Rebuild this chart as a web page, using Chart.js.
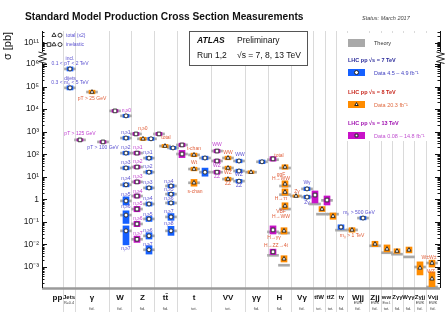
<!DOCTYPE html>
<html>
<head>
<meta charset="utf-8">
<script src="https://cdn.jsdelivr.net/npm/chart.js@4.4.0/dist/chart.umd.min.js"></script>
<style>
  body { margin: 0; background: #fff; }
  #caixa { width: 447px; height: 327px; position: relative; }
</style>
</head>
<body>
<div id="caixa"><canvas id="grafico"></canvas></div>
<script>
// categorias do eixo x e seus limites (unidades do eixo, 0 = borda esquerda)
const categorias = ["pp", "Jets", "γ", "W", "Z", "tt̄", "t", "VV", "γγ", "H", "Vγ", "tt̄W", "tt̄Z", "tγ", "Wjj", "Zjj", "ww", "Zγγ", "Wγγ", "Zγjj", "Vvjj"];
const limitesCategorias = [10, 21, 33, 67, 89, 112, 135, 169, 203, 226, 249, 271, 283, 294, 305, 327, 339, 350, 361, 372, 384, 398];
const notasCategorias = ["", "R=0.4", "", "", "", "", "", "", "", "", "", "", "", "", "EWK", "EWK", "Excl.", "", "", "EWK", "EWK"];
const tiposCategorias = ["", "", "fid.", "fid.", "fid.", "fid.", "tot.", "tot.", "fid.", "fid.", "fid.", "tot.", "tot.", "fid.", "fid.", "fid.", "tot.", "fid.", "fid.", "fid.", "fid."];

const ticksSigma = [1e-3, 1e-2, 1e-1, 1, 10, 100, 1e3, 1e4, 1e5, 1e6, 1e11];
const ticksTexto = ["10⁻³", "10⁻²", "10⁻¹", "1", "10¹", "10²", "10³", "10⁴", "10⁵", "10⁶", "10¹¹"];

// [x, sigma (pb), erro abaixo (dex), erro acima (dex), teoria (pb)]
const dados7TeV = [
  [18, 2.2e11, 0, 0, null],
  [18, 8.5e10, 0, 0, null],
  [28, 6.0e5, 0.09, 0.09, 6.0e5],
  [28, 8.7e4, 0.09, 0.09, 8.7e4],
  [84, 5.0e3, 0.07, 0.07, 5.0e3],
  [84, 520, 0.08, 0.08, 520],
  [84, 112, 0.08, 0.08, 112],
  [84, 24.5, 0.08, 0.08, 24.5],
  [84, 4.4, 0.09, 0.09, 4.4],
  [84, 0.85, 0.18, 0.18, 0.85],
  [84, 0.2, 0.37, 0.19, 0.2],
  [84, 0.04, 0.62, 0.22, 0.04],
  [109, 480, 0.07, 0.07, 480],
  [107, 67, 0.08, 0.08, 67],
  [107, 16, 0.08, 0.08, 16],
  [107, 3.2, 0.08, 0.08, 3.2],
  [107, 0.62, 0.09, 0.09, 0.62],
  [107, 0.135, 0.11, 0.11, 0.135],
  [107, 0.024, 0.14, 0.14, 0.024],
  [107, 0.0058, 0.19, 0.18, 0.0058],
  [131, 190, 0.07, 0.07, 190],
  [129, 3.9, 0.08, 0.08, 3.9],
  [129, 1.7, 0.08, 0.08, 1.7],
  [129, 0.69, 0.08, 0.08, 0.69],
  [129, 0.166, 0.15, 0.15, 0.166],
  [129, 0.04, 0.2, 0.2, 0.04],
  [163, 68, 0.08, 0.08, 68],
  [163, 16, 0.18, 0.18, 16],
  [197, 50, 0.08, 0.08, 50],
  [197, 18, 0.08, 0.08, 18],
  [197, 6.4, 0.08, 0.08, 6.4],
  [220, 46, 0.08, 0.08, 46],
  [265, 2.9, 0.08, 0.08, 2.9],
  [265, 1.26, 0.08, 0.08, 1.26],
  [299, 0.059, 0.1, 0.1, 0.043],
  [321, 0.148, 0.08, 0.08, 0.148],
];

const dados8TeV = [
  [12, 2.2e11, 0, 0, null],
  [12, 8.5e10, 0, 0, null],
  [50, 5.7e4, 0.08, 0.08, 5.7e4],
  [101, 480, 0.07, 0.07, 480],
  [123, 230, 0.07, 0.07, 230],
  [152, 93, 0.08, 0.08, 93],
  [152, 22, 0.08, 0.08, 22],
  [152, 5.4, 0.15, 0.15, 5.4],
  [186, 68, 0.08, 0.08, 68],
  [186, 24.5, 0.08, 0.08, 24.5],
  [186, 7.9, 0.08, 0.08, 7.9],
  [209, 16, 0.06, 0.06, 16],
  [243, 27, 0.1, 0.1, 24.5],
  [243, 4.8, 0.14, 0.14, 3.9],
  [243, 2.1, 0.14, 0.14, 1.6],
  [243, 0.51, 0.14, 0.14, 0.37],
  [242, 0.04, 0.14, 0.14, 0.032],
  [242, 0.0023, 0.14, 0.14, 0.0012],
  [254, 1.4, 0.05, 0.05, 1.4],
  [280, 0.37, 0.11, 0.11, 0.22],
  [291, 0.18, 0.14, 0.14, 0.22],
  [310, 0.044, 0.1, 0.1, 0.044],
  [333, 0.0105, 0.12, 0.12, 0.0087],
  [345, 0.0063, 0.13, 0.18, 0.0043],
  [355, 0.0051, 0.1, 0.1, 0.0037],
  [367, 0.0057, 0.13, 0.13, 0.0028],
  [378, 0.00091, 0.31, 0.27, 0.001],
  [390, 0.0015, 0.18, 0.13, 0.0015],
  [390, 0.0003, 0.35, 0.31, 0.00013],
];

const dados13TeV = [
  [7, 8.5e10, 0, 0, null],
  [38, 430, 0.05, 0.05, 430],
  [61, 350, 0.06, 0.06, 350],
  [73, 8.3e3, 0.06, 0.06, 8.3e3],
  [94, 790, 0.07, 0.07, 790],
  [95, 112, 0.08, 0.08, 112],
  [95, 27, 0.08, 0.08, 27],
  [95, 5.9, 0.08, 0.08, 5.9],
  [95, 1.4, 0.09, 0.09, 1.4],
  [95, 0.37, 0.12, 0.12, 0.37],
  [95, 0.081, 0.12, 0.12, 0.081],
  [95, 0.017, 0.14, 0.14, 0.017],
  [117, 790, 0.07, 0.07, 790],
  [140, 257, 0.08, 0.08, 257],
  [140, 102, 0.16, 0.16, 102],
  [175, 138, 0.08, 0.08, 138],
  [175, 50, 0.08, 0.08, 50],
  [175, 16, 0.08, 0.08, 16],
  [231, 62, 0.1, 0.1, 57],
  [231, 0.044, 0.18, 0.18, 0.036],
  [231, 0.0047, 0.12, 0.12, 0.0033],
  [273, 1.55, 0.35, 0.18, 0.62],
  [285, 0.93, 0.22, 0.18, 0.9],
];

// rotulos: [x, sigma, texto]
const rotulosPp = [
  [24, 2.2e11, "total (x2)"],
  [24, 8.5e10, "inelastic"],
];

const rotulos7TeV = [
  [28, 1.7e6, "incl."],
  [28, 1.0e6, "0.1 < pT < 2 TeV"],
  [28, 2.2e5, "dijets"],
  [28, 1.45e5, "0.3 < mⱼⱼ < 5 TeV"],
  [61, 190, "pT > 100 GeV"],
  [84, 870, "nⱼ≥1"],
  [84, 190, "nⱼ≥2"],
  [84, 41, "nⱼ≥3"],
  [84, 7.9, "nⱼ≥4"],
  [84, 1.55, "nⱼ≥5"],
  [84, 0.46, "nⱼ≥6"],
  [84, 0.0063, "nⱼ≥7"],
  [106, 112, "nⱼ≥1"],
  [106, 27, "nⱼ≥2"],
  [106, 5.4, "nⱼ≥3"],
  [106, 1.05, "nⱼ≥4"],
  [106, 0.22, "nⱼ≥5"],
  [106, 0.04, "nⱼ≥6"],
  [106, 0.0095, "nⱼ≥7"],
  [127, 5.9, "nⱼ≥4"],
  [127, 2.6, "nⱼ≥5"],
  [127, 1.05, "nⱼ≥6"],
  [127, 0.28, "nⱼ≥7"],
  [127, 0.081, "nⱼ≥8"],
  [198, 93, "WW"],
  [197, 12, "WZ"],
  [197, 3.9, "ZZ"],
  [265, 5.4, "Wγ"],
  [265, 0.69, "Zγ"],
  [317, 0.25, "mⱼⱼ > 500 GeV"],
];

const rotulos8TeV = [
  [50, 2.8e4, "pT > 25 GeV"],
  [101, 1300, "nⱼ≥0"],
  [124, 520, "total"],
  [152, 170, "t-chan"],
  [152, 41, "Wt"],
  [153, 2.1, "s-chan"],
  [186, 112, "WW"],
  [186, 16, "WZ"],
  [186, 4.8, "ZZ"],
  [237, 83, "total"],
  [239, 13, "ggF"],
  [239, 7.9, "H→WW"],
  [239, 1.05, "H→ττ"],
  [239, 0.28, "VBF"],
  [239, 0.166, "H→WW"],
  [232, 0.0195, "H→γγ"],
  [234, 0.0085, "H→ZZ→4ℓ"],
  [255, 2.3, "Zγ"],
  [310, 0.024, "mⱼⱼ > 1 TeV"],
  [387, 0.0025, "W±W±"],
  [389, 0.0006, "WZ"],
];

const rotulos13TeV = [
  [38, 790, "pT > 125 GeV"],
  [84.5, 8.3e3, "nⱼ≥0"],
  [96, 190, "nⱼ≥1"],
  [96, 46, "nⱼ≥2"],
  [96, 9.8, "nⱼ≥3"],
  [96, 2.3, "nⱼ≥4"],
  [96, 0.62, "nⱼ≥5"],
  [96, 0.135, "nⱼ≥6"],
  [96, 0.029, "nⱼ≥7"],
  [175, 257, "WW"],
  [175, 30, "WZ"],
  [175, 9.8, "ZZ"],
];

const corAzul = "#1560ff";
const corLaranja = "#ff8c00";
const corMagenta = "#c812c8";
const corTeoria = "#a9a9a9";

// eixo logaritmico com quebra entre 10^6 e 10^10
function paraEixo(sigma) {
  const l = Math.log10(sigma);
  return l >= 10 ? l - 4.07 : l;
}

function caixas(serie) {
  return serie
    .filter((p) => p[2] + p[3] > 0)
    .map((p) => ({ x: p[0], y: [paraEixo(p[1]) - p[2], paraEixo(p[1]) + p[3]] }));
}

function marcadores(serie) {
  return serie.map((p) => ({ x: p[0], y: paraEixo(p[1]) }));
}

function teoria(serie) {
  return serie
    .filter((p) => p[4])
    .map((p) => ({ x: p[0], y: [paraEixo(p[4]) - 0.045, paraEixo(p[4]) + 0.045] }));
}

const estiloMarcador = {
  type: "scatter",
  radius: 2,
  backgroundColor: "#fff",
  borderColor: "#222",
  borderWidth: 0.9,
  order: 1,
};

function texto(ctx, t, x, y, fonte, cor, alinhamento) {
  ctx.font = fonte;
  ctx.fillStyle = cor;
  ctx.textAlign = alinhamento || "center";
  ctx.textBaseline = "middle";
  ctx.fillText(t, x, y);
}

const desenhoExtra = {
  id: "desenhoExtra",

  beforeDatasetsDraw(chart) {
    const ctx = chart.ctx;
    const escalaX = chart.scales.x;
    const area = chart.chartArea;

    ctx.save();
    ctx.strokeStyle = "#dadada";
    ctx.lineWidth = 1;
    for (let i = 1; i < limitesCategorias.length - 1; i++) {
      const px = Math.round(escalaX.getPixelForValue(limitesCategorias[i])) + 0.5;
      ctx.beginPath();
      ctx.moveTo(px, area.top);
      ctx.lineTo(px, area.bottom + 24);
      ctx.stroke();
    }
    ctx.restore();
  },

  afterDatasetsDraw(chart) {
    const ctx = chart.ctx;
    const escalaX = chart.scales.x;
    const escalaY = chart.scales.y;
    const area = chart.chartArea;
    const fonte = '"Liberation Sans", Arial, sans-serif';

    ctx.save();

    // eixo inferior
    ctx.strokeStyle = "#9a9a9a";
    ctx.lineWidth = 2.5;
    ctx.beginPath();
    ctx.moveTo(area.left, area.bottom + 0.5);
    ctx.lineTo(area.right, area.bottom + 0.5);
    ctx.stroke();

    // eixos verticais
    ctx.strokeStyle = "#111";
    ctx.lineWidth = 1;
    [area.left + 0.5, area.right + 0.5].forEach((px) => {
      ctx.beginPath();
      ctx.moveTo(px, area.top);
      ctx.lineTo(px, area.bottom);
      ctx.stroke();
    });

    // marcas maiores e menores
    for (let n = -4; n <= 11; n++) {
      if (n >= 7 && n <= 9) continue;
      for (let k = 1; k <= 9; k++) {
        const v = paraEixo(k * Math.pow(10, n));
        if (v < escalaY.min || v > escalaY.max) continue;
        if (v > 6.02 && v < 6.55) continue;
        const py = Math.round(escalaY.getPixelForValue(v)) + 0.5;
        const comp = k === 1 ? 5 : 2.5;
        ctx.beginPath();
        ctx.moveTo(area.left, py);
        ctx.lineTo(area.left + comp, py);
        ctx.moveTo(area.right, py);
        ctx.lineTo(area.right - comp, py);
        ctx.stroke();
      }
    }

    // quebra do eixo
    [area.left + 0.5, area.right + 0.5].forEach((px) => {
      ctx.fillStyle = "#fff";
      ctx.fillRect(px - 2, 52, 4, 11);
      ctx.strokeStyle = "#111";
      ctx.lineWidth = 0.9;
      ctx.beginPath();
      ctx.moveTo(px - 4, 52);
      ctx.lineTo(px + 4, 54);
      ctx.lineTo(px - 4, 56.5);
      ctx.lineTo(px + 4, 59);
      ctx.lineTo(px - 4, 61.5);
      ctx.lineTo(px + 4, 63.5);
      ctx.stroke();
    });

    // rotulos dos pontos
    const fonteRotulo = "5px " + fonte;
    rotulosPp.forEach((r) => {
      texto(ctx, r[2], escalaX.getPixelForValue(r[0]), escalaY.getPixelForValue(paraEixo(r[1])), fonteRotulo, "#5a50d0", "left");
    });
    [[rotulos7TeV, "#5a50d0"], [rotulos8TeV, "#e0603c"], [rotulos13TeV, "#c040d0"]].forEach(([lista, cor]) => {
      lista.forEach((r) => {
        texto(ctx, r[2], escalaX.getPixelForValue(r[0]), escalaY.getPixelForValue(paraEixo(r[1])), fonteRotulo, cor);
      });
    });

    // rotulos das categorias
    for (let i = 0; i < categorias.length; i++) {
      const meio = escalaX.getPixelForValue((limitesCategorias[i] + limitesCategorias[i + 1]) / 2);
      const nome = categorias[i];
      const pequeno = ["tt̄W", "tt̄Z", "tγ", "ww", "Zγγ", "Wγγ", "Zγjj", "Vvjj", "Jets"].includes(nome);
      texto(ctx, nome, meio, 297.5, "bold " + (pequeno ? "6px " : "8px ") + fonte, "#111");
      if (notasCategorias[i]) {
        texto(ctx, notasCategorias[i], meio, 303, "3.8px " + fonte, "#444");
      }
      if (tiposCategorias[i]) {
        texto(ctx, tiposCategorias[i], meio, 308.5, "4px " + fonte, "#444");
      }
    }

    // caixa ATLAS
    ctx.fillStyle = "#fff";
    ctx.fillRect(189.5, 31.5, 118, 34);
    ctx.strokeStyle = "#555";
    ctx.lineWidth = 1;
    ctx.strokeRect(189.5, 31.5, 118, 34);
    texto(ctx, "ATLAS", 197, 40.5, "italic bold 8.5px " + fonte, "#111", "left");
    texto(ctx, "Preliminary", 237, 40.5, "8.5px " + fonte, "#111", "left");
    texto(ctx, "Run 1,2", 197, 55.5, "8.5px " + fonte, "#111", "left");
    texto(ctx, "√s = 7, 8, 13 TeV", 237, 55.5, "8.5px " + fonte, "#111", "left");

    // legenda
    ctx.fillStyle = "#fff";
    ctx.fillRect(343, 33, 91, 108);
    ctx.fillStyle = corTeoria;
    ctx.fillRect(348, 39, 17, 8);
    texto(ctx, "Theory", 374, 43.5, "5.5px " + fonte, "#333", "left");

    const itens = [
      ["LHC pp √s = 7 TeV", "#2a2a9a", corAzul, "circle", "Data 4.5 – 4.9 fb⁻¹", "#4040c0", 60],
      ["LHC pp √s = 8 TeV", "#c8281e", corLaranja, "triangle", "Data 20.3 fb⁻¹", "#e06a40", 92],
      ["LHC pp √s = 13 TeV", "#a010b0", corMagenta, "rect", "Data 0.08 – 14.8 fb⁻¹", "#c050d0", 123],
    ];
    itens.forEach(([titulo, corTitulo, corCaixa, estilo, dadosTexto, corDados, y]) => {
      texto(ctx, titulo, 348, y, "bold 5.5px " + fonte, corTitulo, "left");
      ctx.fillStyle = corCaixa;
      ctx.fillRect(348, y + 9, 17, 7);
      ctx.fillStyle = "#fff";
      ctx.strokeStyle = "#222";
      Chart.helpers.drawPoint(ctx, { pointStyle: estilo, radius: 2, borderWidth: 0.9, rotation: 0 }, 356.5, y + 12.5);
      texto(ctx, dadosTexto, 374, y + 13, "5.5px " + fonte, corDados, "left");
    });

    // titulos
    texto(ctx, "Standard Model Production Cross Section Measurements", 25, 17, "bold 10.2px " + fonte, "#111", "left");
    texto(ctx, "Status: March 2017", 362, 18, "italic 5.5px " + fonte, "#444", "left");

    ctx.translate(8, 46);
    ctx.rotate(-Math.PI / 2);
    texto(ctx, "σ [pb]", 0, 0, "11px " + fonte, "#111");

    ctx.restore();
  },
};

new Chart(document.getElementById("grafico"), {
  type: "scatter",

  data: {
    datasets: [
      {
        type: "bar",
        data: teoria(dados7TeV).concat(teoria(dados8TeV), teoria(dados13TeV)),
        backgroundColor: corTeoria,
        barThickness: 11,
        grouped: false,
        order: 5,
      },
      {
        type: "bar",
        data: caixas(dados7TeV),
        backgroundColor: corAzul,
        barThickness: 6,
        grouped: false,
        order: 4,
      },
      {
        type: "bar",
        data: caixas(dados8TeV),
        backgroundColor: corLaranja,
        barThickness: 6,
        grouped: false,
        order: 4,
      },
      {
        type: "bar",
        data: caixas(dados13TeV),
        backgroundColor: corMagenta,
        barThickness: 6,
        grouped: false,
        order: 4,
      },
      { ...estiloMarcador, data: marcadores(dados7TeV), pointStyle: "circle" },
      { ...estiloMarcador, data: marcadores(dados8TeV), pointStyle: "triangle", radius: 2.4 },
      { ...estiloMarcador, data: marcadores(dados13TeV), pointStyle: "rect", radius: 2.6 },
    ],
  },

  options: {
    responsive: true,
    maintainAspectRatio: false,
    animation: false,
    events: [],

    layout: {
      padding: { left: 0, right: 7, top: 31, bottom: 39 },
    },

    plugins: {
      legend: { display: false },
      tooltip: { enabled: false },
    },

    scales: {
      x: {
        type: "linear",
        display: false,
        min: 0,
        max: 398,
        offset: false,
      },

      y: {
        type: "linear",
        min: -3.93,
        max: 7.46,
        grid: { display: false, drawTicks: false },
        border: { display: false },
        afterBuildTicks: (escala) => {
          escala.ticks = ticksSigma.map((s) => ({ value: paraEixo(s) }));
        },
        afterFit: (escala) => {
          escala.width = 42;
        },
        ticks: {
          padding: 3,
          autoSkip: false,
          color: "#222",
          font: { family: '"Liberation Sans", Arial, sans-serif', size: 8.5 },
          callback: (valor, indice) => ticksTexto[indice],
        },
      },
    },
  },

  plugins: [desenhoExtra],
});
</script>
</body>
</html>
